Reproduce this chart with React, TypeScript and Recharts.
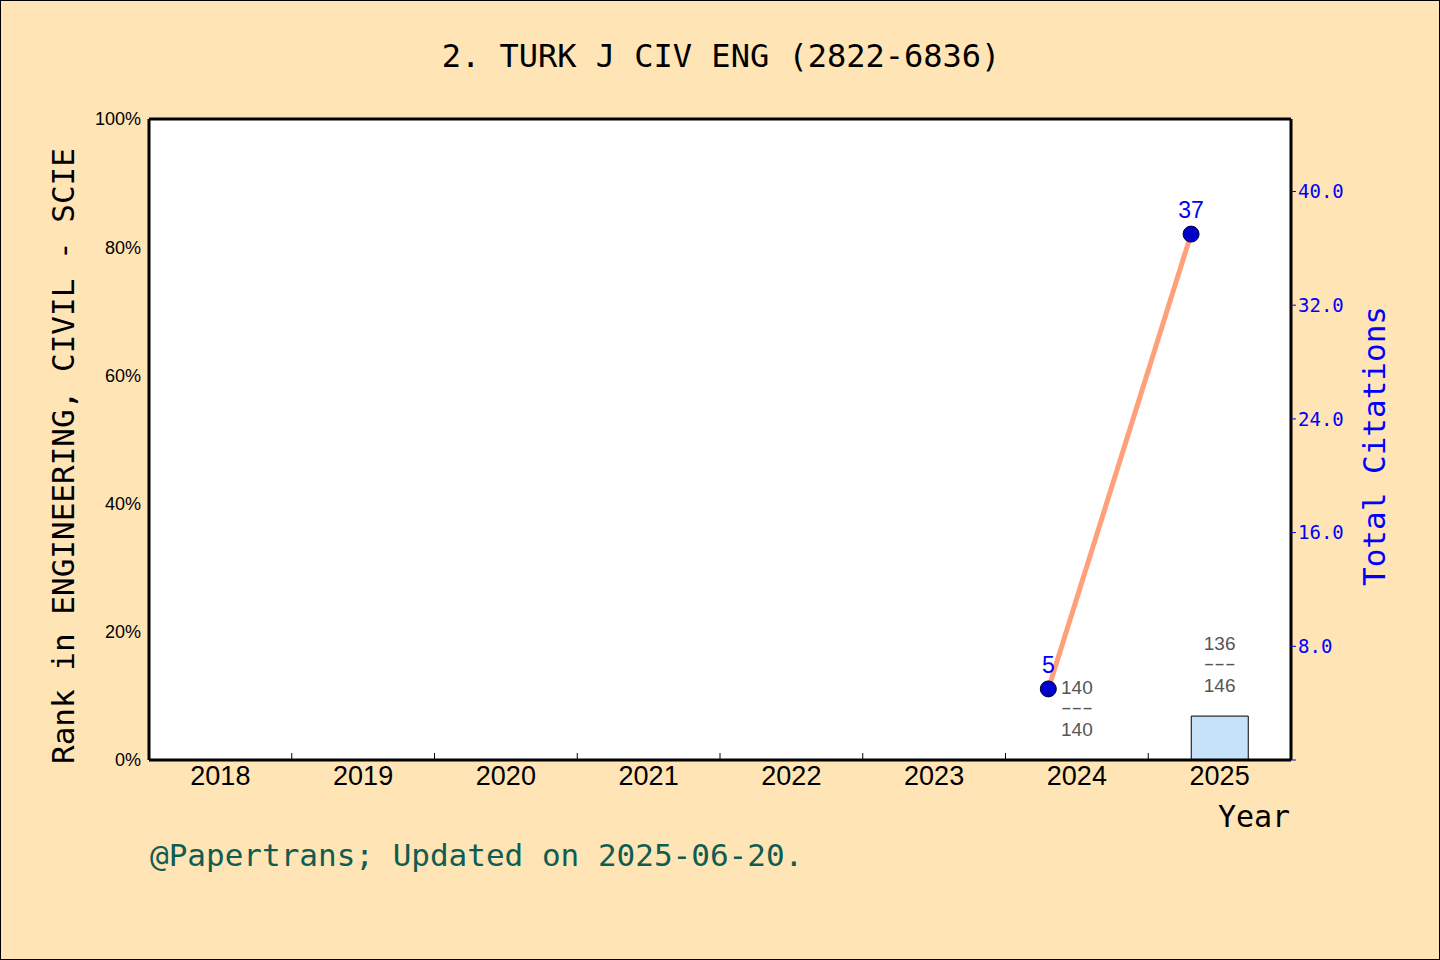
import React from 'react';
import { ComposedChart, Bar, Line, XAxis, YAxis, CartesianGrid, LabelList } from 'recharts';

const years = ['2018', '2019', '2020', '2021', '2022', '2023', '2024', '2025'];
const rankPct: (number | null)[] = [null, null, null, null, null, null, 0, 6.85];
const rankPos: (number | null)[] = [null, null, null, null, null, null, 140, 136];
const rankTotal: (number | null)[] = [null, null, null, null, null, null, 140, 146];
const citations: (number | null)[] = [null, null, null, null, null, null, 5, 37];
const leftTicks = [0, 20, 40, 60, 80, 100];
const rightTicks = [0, 8, 16, 24, 32, 40];
const boundaryTicks = [1, 2, 3, 4, 5, 6, 7];

const LINE_SHIFT = 0.3;

const barData = years.map((y, i) => ({
  year: y,
  pct: rankPct[i],
  lbl: rankPos[i] === null ? null : `${rankPos[i]}|${rankTotal[i]}`,
}));
const lineData = years
  .map((y, i) => ({ pos: i + LINE_SHIFT, cites: citations[i] }))
  .filter((d) => d.cites !== null);

const MONO = '"DejaVu Sans Mono", "Liberation Mono", monospace';
const SANS = '"Liberation Sans", Arial, sans-serif';

const RankLabel = (props: any) => {
  const { x, y, width, value } = props;
  if (value === null || value === undefined || value === '') return null;
  const [r, t] = String(value).split('|');
  const cx = Number(x) + (Number(width) || 0) / 2;
  const top = Number(y);
  return (
    <g>
      <text x={cx} y={top - 73} textAnchor="middle" dominantBaseline="central" fill="#555" fontSize={19} fontFamily={SANS}>{r}</text>
      <text x={cx} y={top - 52} textAnchor="middle" dominantBaseline="central" fill="#555" fontSize={18} fontFamily={SANS} textLength={32} lengthAdjust="spacingAndGlyphs">---</text>
      <text x={cx} y={top - 31} textAnchor="middle" dominantBaseline="central" fill="#555" fontSize={19} fontFamily={SANS}>{t}</text>
    </g>
  );
};

const textBase: React.CSSProperties = {
  position: 'absolute',
  whiteSpace: 'nowrap',
  lineHeight: 1,
  transform: 'translate(-50%, -50%)',
  fontFamily: MONO,
};

export default function App() {
  return (
    <div style={{ position: 'absolute', left: 0, top: 0, width: 1440, height: 960, background: '#FFE4B5', overflow: 'hidden' }}>
      <ComposedChart width={1440} height={960} data={barData} margin={{ top: 119, right: 0, bottom: 0, left: 0 }}>
        <CartesianGrid xAxisId="cat" yAxisId="left" fill="#ffffff" horizontal={false} vertical={false} />
        <XAxis
          xAxisId="cat"
          dataKey="year"
          height={200}
          tickLine={false}
          tickSize={4}
          axisLine={{ stroke: '#000', strokeWidth: 3 }}
          tick={{ fill: '#000', fontSize: 27, fontFamily: SANS }}
          interval={0}
        />
        <XAxis
          xAxisId="n"
          type="number"
          dataKey="pos"
          domain={[0, 8]}
          ticks={boundaryTicks}
          allowDataOverflow
          mirror
          height={1}
          tickFormatter={() => ''}
          tickSize={7}
          tickLine={{ stroke: '#000', strokeWidth: 1 }}
          axisLine={false}
        />
        <XAxis
          xAxisId="top"
          dataKey="year"
          orientation="top"
          mirror
          height={1}
          tickFormatter={() => ''}
          tickLine={false}
          axisLine={{ stroke: '#000', strokeWidth: 3 }}
        />
        <YAxis
          yAxisId="left"
          width={149}
          domain={[0, 100]}
          ticks={leftTicks}
          tickFormatter={(v: number) => `${v}%`}
          tickLine={false}
          tickSize={6}
          axisLine={{ stroke: '#000', strokeWidth: 3 }}
          tick={{ fill: '#000', fontSize: 18, fontFamily: SANS }}
        />
        <YAxis
          yAxisId="right"
          orientation="right"
          width={149}
          domain={[0, 45.1]}
          ticks={rightTicks}
          allowDataOverflow
          tickFormatter={(v: number) => (v === 0 ? '' : v.toFixed(1))}
          tickSize={5}
          tickLine={{ stroke: '#0000FF', strokeWidth: 1 }}
          axisLine={{ stroke: '#000', strokeWidth: 3 }}
          tick={{ fill: '#0000FF', fontSize: 19, fontFamily: MONO }}
        />
        <Bar
          xAxisId="cat"
          yAxisId="left"
          dataKey="pct"
          barSize={57}
          fill="#C6E2F9"
          stroke="#000"
          strokeWidth={1}
          isAnimationActive={false}
        />
        <Line
          xAxisId="cat"
          yAxisId="left"
          dataKey="pct"
          stroke="none"
          strokeWidth={0}
          dot={false}
          activeDot={false}
          connectNulls={false}
          legendType="none"
          isAnimationActive={false}
        >
          <LabelList dataKey="lbl" content={RankLabel} />
        </Line>
        <Line
          xAxisId="n"
          yAxisId="right"
          data={lineData}
          dataKey="cites"
          stroke="#FFA07A"
          strokeWidth={5}
          dot={{ r: 8, fill: '#0000CD', stroke: '#000033', strokeWidth: 1 }}
          activeDot={false}
          isAnimationActive={false}
        >
          <LabelList dataKey="cites" position="top" offset={16} fill="#0000FF" fontSize={23} fontFamily={SANS} />
        </Line>
      </ComposedChart>

      <div style={{ ...textBase, left: 721, top: 56, fontSize: 32, color: '#000' }}>2. TURK J CIV ENG (2822-6836)</div>
      <div style={{ ...textBase, left: 63, top: 456, fontSize: 31, color: '#000', transform: 'translate(-50%, -50%) rotate(-90deg)' }}>
        Rank in ENGINEERING, CIVIL - SCIE
      </div>
      <div style={{ ...textBase, left: 1374, top: 446, fontSize: 31, color: '#0000FF', transform: 'translate(-50%, -50%) rotate(-90deg)' }}>
        Total Citations
      </div>
      <div style={{ ...textBase, left: 1254, top: 817, fontSize: 30, color: '#000' }}>Year</div>
      <div style={{ ...textBase, left: 150, top: 855, fontSize: 31, color: '#0E5C52', transform: 'translate(0, -50%)' }}>
        @Papertrans; Updated on 2025-06-20.
      </div>
      <div style={{ position: 'absolute', left: 0, top: 0, width: 1440, height: 960, boxSizing: 'border-box', border: '1px solid #000', pointerEvents: 'none' }} />
    </div>
  );
}
